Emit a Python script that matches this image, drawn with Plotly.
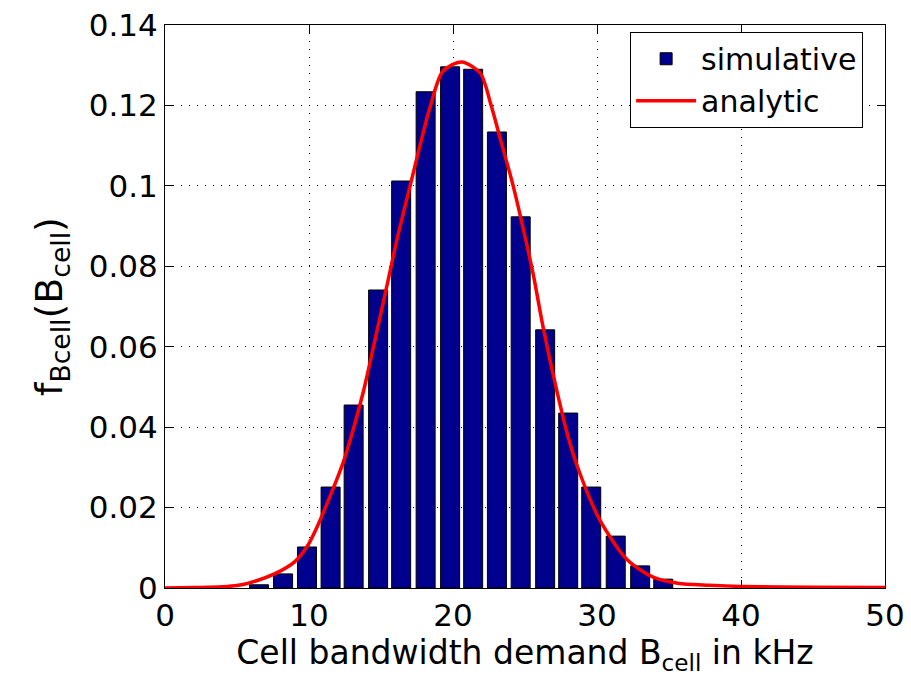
import plotly.graph_objects as go

# Histogram (simulative) – bin centers and heights
bin_centers = [6.53, 8.2, 9.86, 11.5, 13.1, 14.8, 16.4, 18.1, 19.8, 21.4,
               23.05, 24.7, 26.4, 28.0, 29.6, 31.3, 33.0, 34.6]
bin_heights = [0.0008, 0.0035, 0.0102, 0.0251, 0.0455, 0.0741, 0.1012, 0.1234,
               0.1296, 0.1290, 0.1134, 0.0923, 0.0642, 0.0435, 0.0251, 0.0129,
               0.0055, 0.0022]

# Analytic curve
curve_x = [0, 2, 4, 5, 5.8, 7.6, 9.0, 9.9, 10.6, 11.46, 12.4, 13.75, 14.2, 15.5,
           16.1, 17.0, 18.4, 19.3, 20.6, 21.9, 22.6, 23.3, 24.2, 25.1, 25.6,
           26.25, 27.2, 28.0, 28.8, 30.2, 32.1, 33.9, 35.6, 37.8, 40, 45, 50]
curve_y = [0.0, 0.0001, 0.0003, 0.0006, 0.0012, 0.0035, 0.0065, 0.0105, 0.0155,
           0.0228, 0.0315, 0.0485, 0.0555, 0.0766, 0.0865, 0.0997, 0.1195, 0.1285,
           0.1308, 0.1280, 0.1206, 0.1115, 0.0997, 0.0858, 0.0775, 0.0650, 0.0492,
           0.0375, 0.0286, 0.0169, 0.0070, 0.0027, 0.0012, 0.0007, 0.0004, 0.0002,
           0.0001]

x_ticks = [0, 10, 20, 30, 40, 50]
y_ticks = [0, 0.02, 0.04, 0.06, 0.08, 0.1, 0.12, 0.14]
y_tick_text = ["0", "0.02", "0.04", "0.06", "0.08", "0.1", "0.12", "0.14"]

FONT = "DejaVu Sans, Liberation Sans, Arial, sans-serif"

fig = go.Figure()
fig.add_trace(go.Bar(
    x=bin_centers, y=bin_heights, width=[1.32] * len(bin_centers),
    name="simulative",
    marker=dict(color="rgb(0,0,140)", line=dict(color="black", width=1)),
))
fig.add_trace(go.Scatter(
    x=curve_x, y=curve_y, mode="lines", name="analytic",
    line=dict(color="rgb(255,0,0)", width=3.5, shape="spline", smoothing=0.8),
))

axis_common = dict(
    showline=True, linecolor="black", linewidth=1, mirror="ticks",
    ticks="inside", ticklen=8, tickcolor="black",
    showgrid=True, gridcolor="black", gridwidth=1, griddash="1px,7px",
    zeroline=False, automargin=False, ticklabeloverflow="allow",
    tickfont=dict(family=FONT, size=31, color="black"),
)

# the page body adds an 8px offset, so the figure is sized to the remaining space
fig.update_layout(
    width=903, height=674,
    margin=dict(l=157, r=26, t=17, b=94),
    paper_bgcolor="white", plot_bgcolor="white",
    font=dict(family=FONT, size=31, color="black"),
    showlegend=True,
    legend=dict(x=0.646, y=0.988, xanchor="left", yanchor="top",
                bgcolor="white", bordercolor="black", borderwidth=1,
                font=dict(family=FONT, size=30, color="black"),
                itemwidth=60, tracegroupgap=0),
    xaxis=dict(range=[0, 50], tickvals=x_ticks,
               title=dict(text="Cell bandwidth demand B<sub>cell</sub> in kHz",
                          font=dict(family=FONT, size=33), standoff=0),
               **axis_common),
    yaxis=dict(range=[0, 0.14], tickvals=y_ticks, ticktext=y_tick_text,
               title=dict(text="f<sub>Bcell</sub>(B<sub>cell</sub>)",
                          font=dict(family=FONT, size=38), standoff=14),
               **axis_common),
)

fig.write_html("out.html")
